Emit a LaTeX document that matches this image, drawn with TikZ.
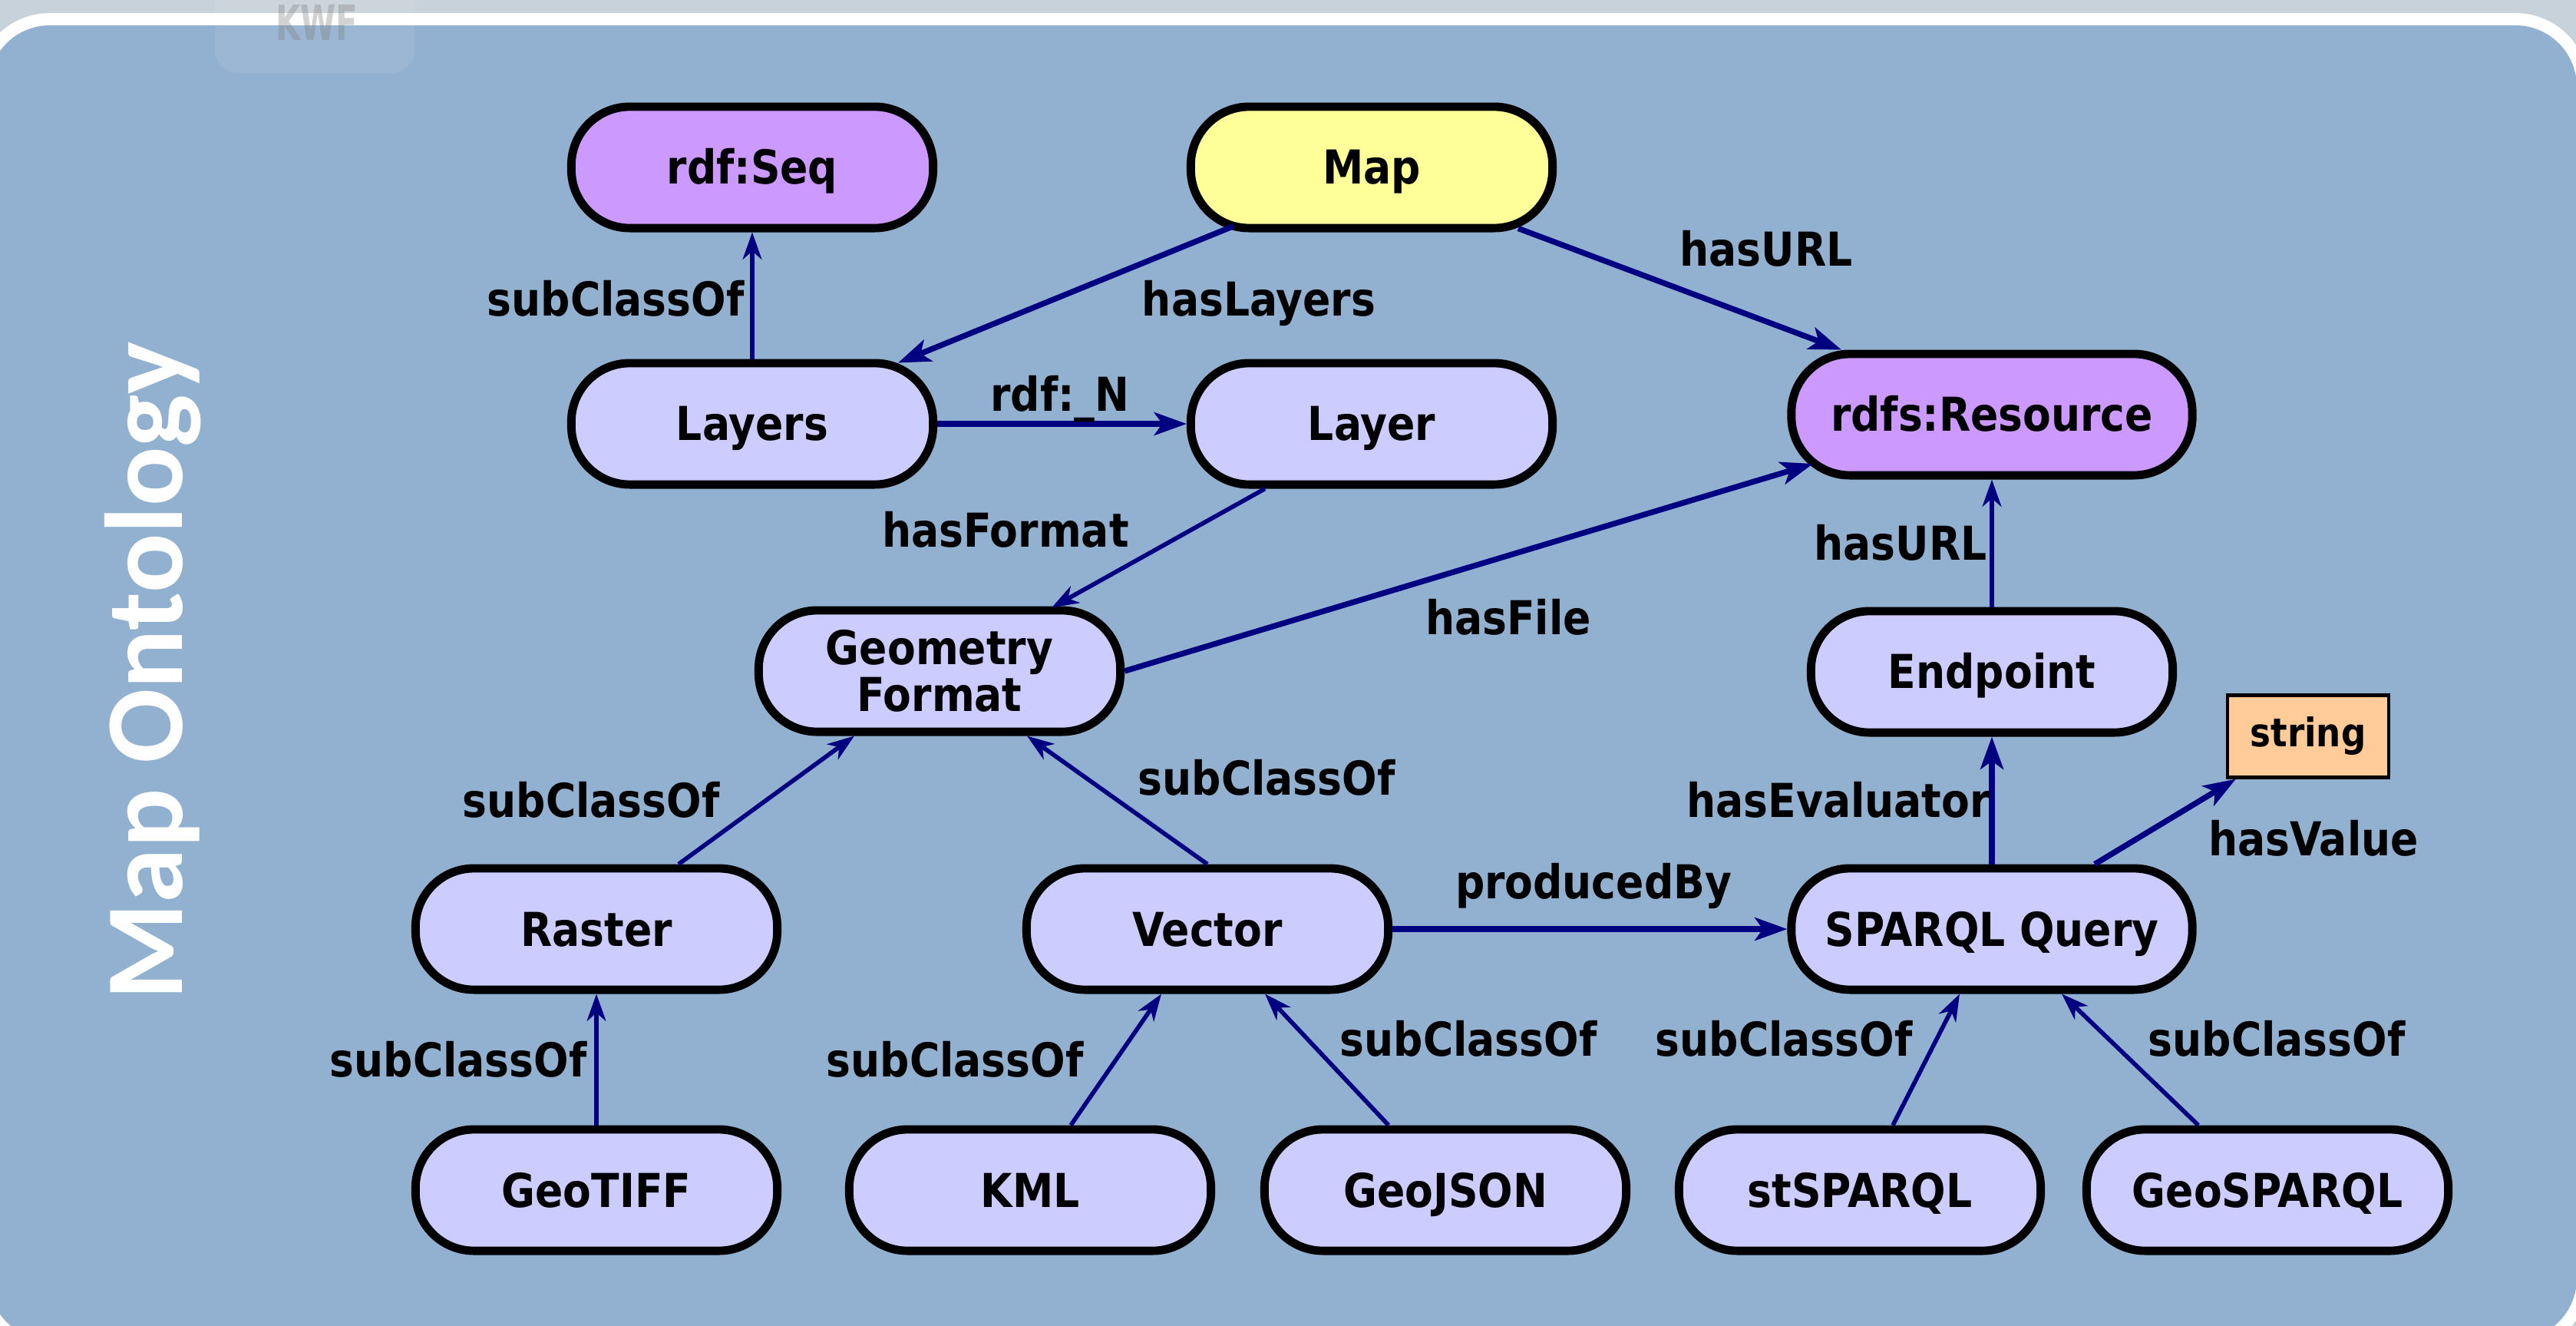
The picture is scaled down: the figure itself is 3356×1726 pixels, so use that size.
\documentclass[tikz,border=0pt]{standalone}
\usepackage{fontspec}
\setmainfont{DejaVu Sans}[FakeStretch=0.88]
\newfontfamily\titlefont{Carlito}
\usetikzlibrary{arrows.meta,calc}
\definecolor{bgblue}{HTML}{92B0CF}
\definecolor{outergray}{HTML}{C8D2DA}
\definecolor{nodefill}{HTML}{CCCCFF}
\definecolor{purp}{HTML}{CC99FF}
\definecolor{yel}{HTML}{FFFF99}
\definecolor{orng}{HTML}{FFCC99}
\definecolor{navy}{HTML}{000080}
\tikzset{
  cls/.style={draw=black, line width=3.1pt, fill=nodefill, rounded corners=0.76cm,
    minimum width=4.71cm, minimum height=1.58cm, inner sep=0pt,
    font=\fontsize{17.3}{17.6}\selectfont\bfseries, text height=12.5pt, text depth=0pt},
  widecls/.style={cls, minimum width=5.22cm},
  lit/.style={draw=black, line width=1.2pt, fill=orng, rectangle,
    minimum width=2.10cm, minimum height=1.07cm, inner sep=0pt,
    font=\fontsize{14.6}{16}\selectfont\bfseries},
  lbl/.style={inner sep=0pt, font=\fontsize{17.3}{17.6}\selectfont\bfseries,
    text height=12.5pt, text depth=0pt},
  rel/.style={draw=navy, line width=2.1pt, -{Stealth[length=12pt,width=8.5pt,inset=3pt]}},
  subrel/.style={draw=navy, line width=1.6pt, -{Stealth[length=10pt,width=7pt,inset=3pt]}}
}
\begin{document}
\begin{tikzpicture}[x=0.01cm, y=-0.01cm]
\useasboundingbox (0,0) rectangle (3356,1726);
% background
\fill[outergray] (-20,-20) rectangle (3380,1760);
\fill[white, rounded corners=0.96cm] (-31,17) rectangle (3373,1761);
\fill[bgblue, rounded corners=0.8cm] (-15,33) rectangle (3357,1745);

% title
\node[rotate=90, anchor=base, text=white, inner sep=0pt,
  font=\titlefont\fontsize{41}{41}\selectfont\bfseries] (title) at (237,874) {Map Ontology};

% nodes
\node[cls, fill=purp] (rdfseq) at (980,218) {rdf:Seq};
\node[cls, fill=yel] (map) at (1787,218) {Map};
\node[cls] (layers) at (980,552) {Layers};
\node[cls] (layer) at (1787,552) {Layer};
\node[widecls, fill=purp] (rdfs) at (2595,540) {rdfs:Resource};
\node[cls, align=center, text height=30.1pt, text depth=0pt] (gf) at (1224,874) {Geometry\\Format};
\node[cls] (endpoint) at (2595,875) {Endpoint};
\node[lit] (string) at (3007,959) {string};
\node[cls] (raster) at (777,1210) {Raster};
\node[cls] (vector) at (1573,1210) {Vector};
\node[widecls] (sparql) at (2595,1210) {SPARQL Query};
\node[cls] (geotiff) at (777,1550) {GeoTIFF};
\node[cls] (kml) at (1342,1550) {KML};
\node[cls] (geojson) at (1883,1550) {GeoJSON};
\node[cls] (stsparql) at (2423,1550) {stSPARQL};
\node[cls] (geosparql) at (2954,1550) {GeoSPARQL};

% connectors
\draw[subrel] (layers.north) -- (rdfseq.south);
\draw[rel] ($(map.south)+(-180,-8)$) -- ($(layers.north)+(190,5)$);
\draw[rel] ($(map.south)+(191,-5)$) -- ($(rdfs.north)+(-196,0)$);
\draw[rel] (layers.east) -- (layer.west);
\draw[subrel] ($(layer.south)+(-139,0)$) -- ($(gf.north)+(146,2)$);
\draw[rel] (gf.east) -- ($(rdfs.center)+(-233,64)$);
\draw[subrel] (endpoint.north) -- (rdfs.south);
\draw[subrel] ($(raster.north)+(107,0)$) -- ($(gf.south)+(-111,0)$);
\draw[subrel] (vector.north) -- ($(gf.south)+(114,0)$);
\draw[rel] (vector.east) -- (sparql.west);
\draw[rel] (sparql.north) -- (endpoint.south);
\draw[rel] ($(sparql.north)+(134,0)$) -- ($(string.south west)+(13,0)$);
\draw[subrel] (geotiff.north) -- (raster.south);
\draw[subrel] ($(kml.north)+(53,0)$) -- ($(vector.south)+(-60,0)$);
\draw[subrel] ($(geojson.north)+(-74,0)$) -- ($(vector.south)+(75,0)$);
\draw[subrel] ($(stsparql.north)+(43,0)$) -- ($(sparql.south)+(-42,0)$);
\draw[subrel] ($(geosparql.north)+(-90,0)$) -- ($(sparql.south)+(91,0)$);

% labels
\node[lbl] (t1) at (802,390) {subClassOf};
\node[lbl] (t2) at (1640,390) {hasLayers};
\node[lbl] (t3) at (2301,325) {hasURL};
\node[lbl] (t4) at (1381,514) {rdf:\_N};
\node[lbl] (t5) at (1310,691) {hasFormat};
\node[lbl] (t6) at (1965,805) {hasFile};
\node[lbl] (t7) at (2476,708) {hasURL};
\node[lbl] (t8) at (770,1042) {subClassOf};
\node[lbl] (t9) at (1650,1014) {subClassOf};
\node[lbl] (t10) at (2076,1149) {producedBy};
\node[lbl] (t11) at (2395,1042) {hasEvaluator};
\node[lbl] (t12) at (3014,1092) {hasValue};
\node[lbl] (t13) at (597,1380) {subClassOf};
\node[lbl] (t14) at (1244,1380) {subClassOf};
\node[lbl] (t15) at (1913,1353) {subClassOf};
\node[lbl] (t16) at (2324,1353) {subClassOf};
\node[lbl] (t17) at (2966,1353) {subClassOf};

% faint watermark
\fill[white, opacity=0.08, rounded corners=0.3cm] (280,-30) rectangle (540,95);
\node[anchor=base, inner sep=0pt, text=gray, opacity=0.35,
  font=\fontsize{18}{18}\selectfont\bfseries] (kwf) at (413,52) {\scalebox{0.75}[1]{KWF}};
\end{tikzpicture}
\end{document}
